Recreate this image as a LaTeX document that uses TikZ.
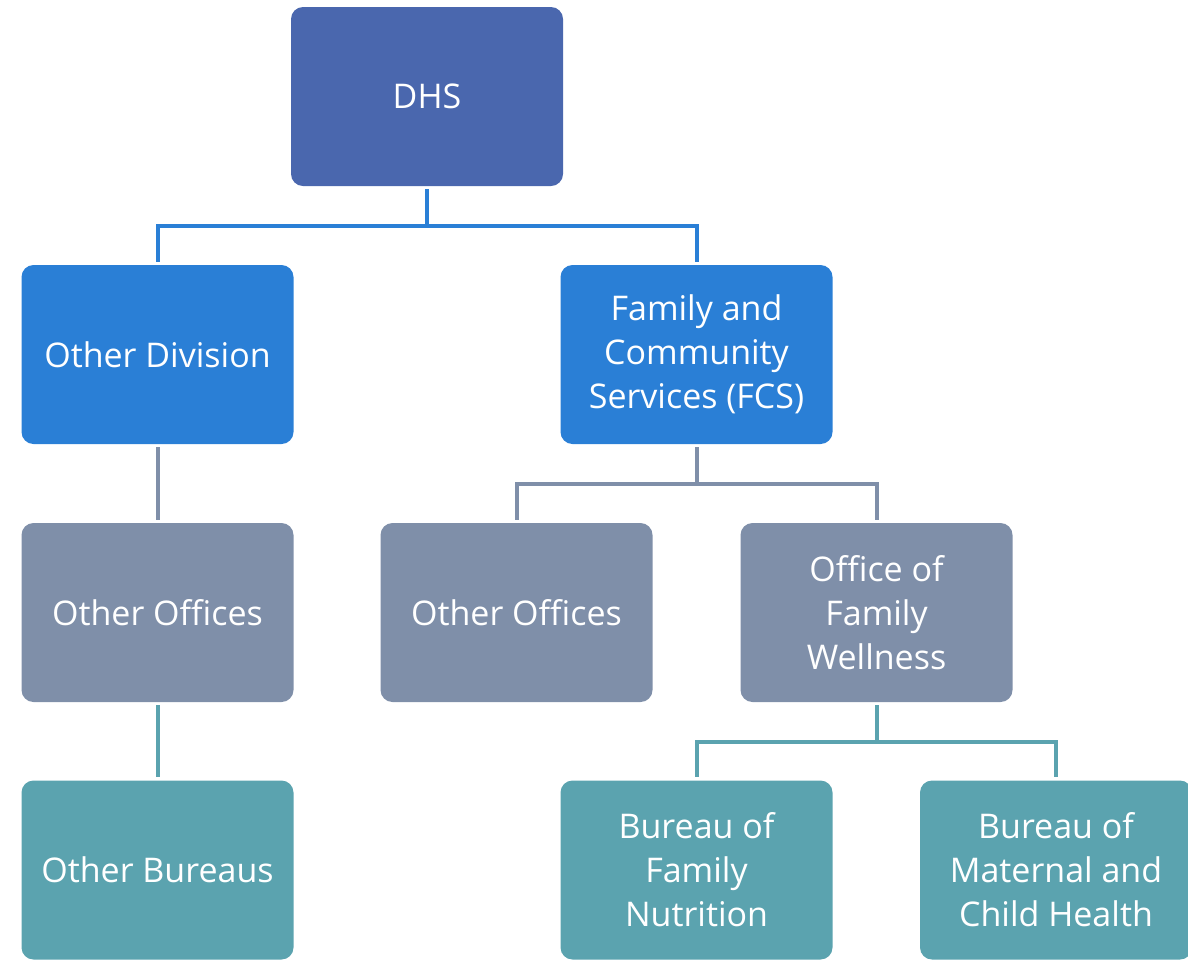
\documentclass[tikz,border=0pt]{standalone}
\usepackage{fontspec}
\setmainfont{Open Sans}

\definecolor{dhsblue}{HTML}{4A67AE}
\definecolor{divblue}{HTML}{2A7FD6}
\definecolor{offgray}{HTML}{7F8FA9}
\definecolor{burteal}{HTML}{5BA3AF}

\tikzset{every node/.style={rectangle, rounded corners=12pt, inner sep=0pt}}

\begin{document}
\begin{tikzpicture}[x=1pt, y=-1pt,
			box/.style={minimum width=272pt, minimum height=179pt, text=white, align=center,
				font=\fontsize{34}{44}\selectfont},
			dhsbox/.style={box, fill=dhsblue},
			divbox/.style={box, fill=divblue},
			officebox/.style={box, fill=offgray},
			bureaubox/.style={box, fill=burteal},
			link/.style={line width=4pt, shorten <=3pt, shorten >=3pt},
			]
			
			\useasboundingbox (0,0) rectangle (1188,959);
			
			% Top level
			\node[dhsbox] (dhs) at (427,96.5) {DHS};
			
			% Divisions
			\node[divbox] (od) at (157.5,354.5) {Other Division};
			\node[divbox] (fcs) at (696.5,354.5) {Family and\\Community\\Services (FCS)};
			
			% Offices
			\node[officebox] (oo1) at (157.5,612.5) {Other Offices};
			\node[officebox] (oo2) at (516.5,612.5) {Other Offices};
			\node[officebox] (ofw) at (876.5,612.5) {Office of\\Family\\Wellness};
			
			% Bureaus
			\node[bureaubox] (ob) at (157.5,870) {Other Bureaus};
			\node[bureaubox] (bfn) at (696.5,870) {Bureau of\\Family\\Nutrition};
			\node[bureaubox] (bmch) at (1056,870) {Bureau of\\Maternal and\\Child Health};
			
			% Elbow connectors from parent to children
			\foreach \c in {od,fcs} {
				\draw[link, draw=divblue] (dhs.south) -- ++(0,39.5) -| (\c.north);
			}
			\foreach \c in {oo2,ofw} {
				\draw[link, draw=offgray] (fcs.south) -- ++(0,39.5) -| (\c.north);
			}
			\foreach \c in {bfn,bmch} {
				\draw[link, draw=burteal] (ofw.south) -- ++(0,39.5) -| (\c.north);
			}
			
			% Straight connectors on the left
			\draw[link, draw=offgray] (od) -- (oo1);
			\draw[link, draw=burteal] (oo1) -- (ob);
			
		\end{tikzpicture}
\end{document}
